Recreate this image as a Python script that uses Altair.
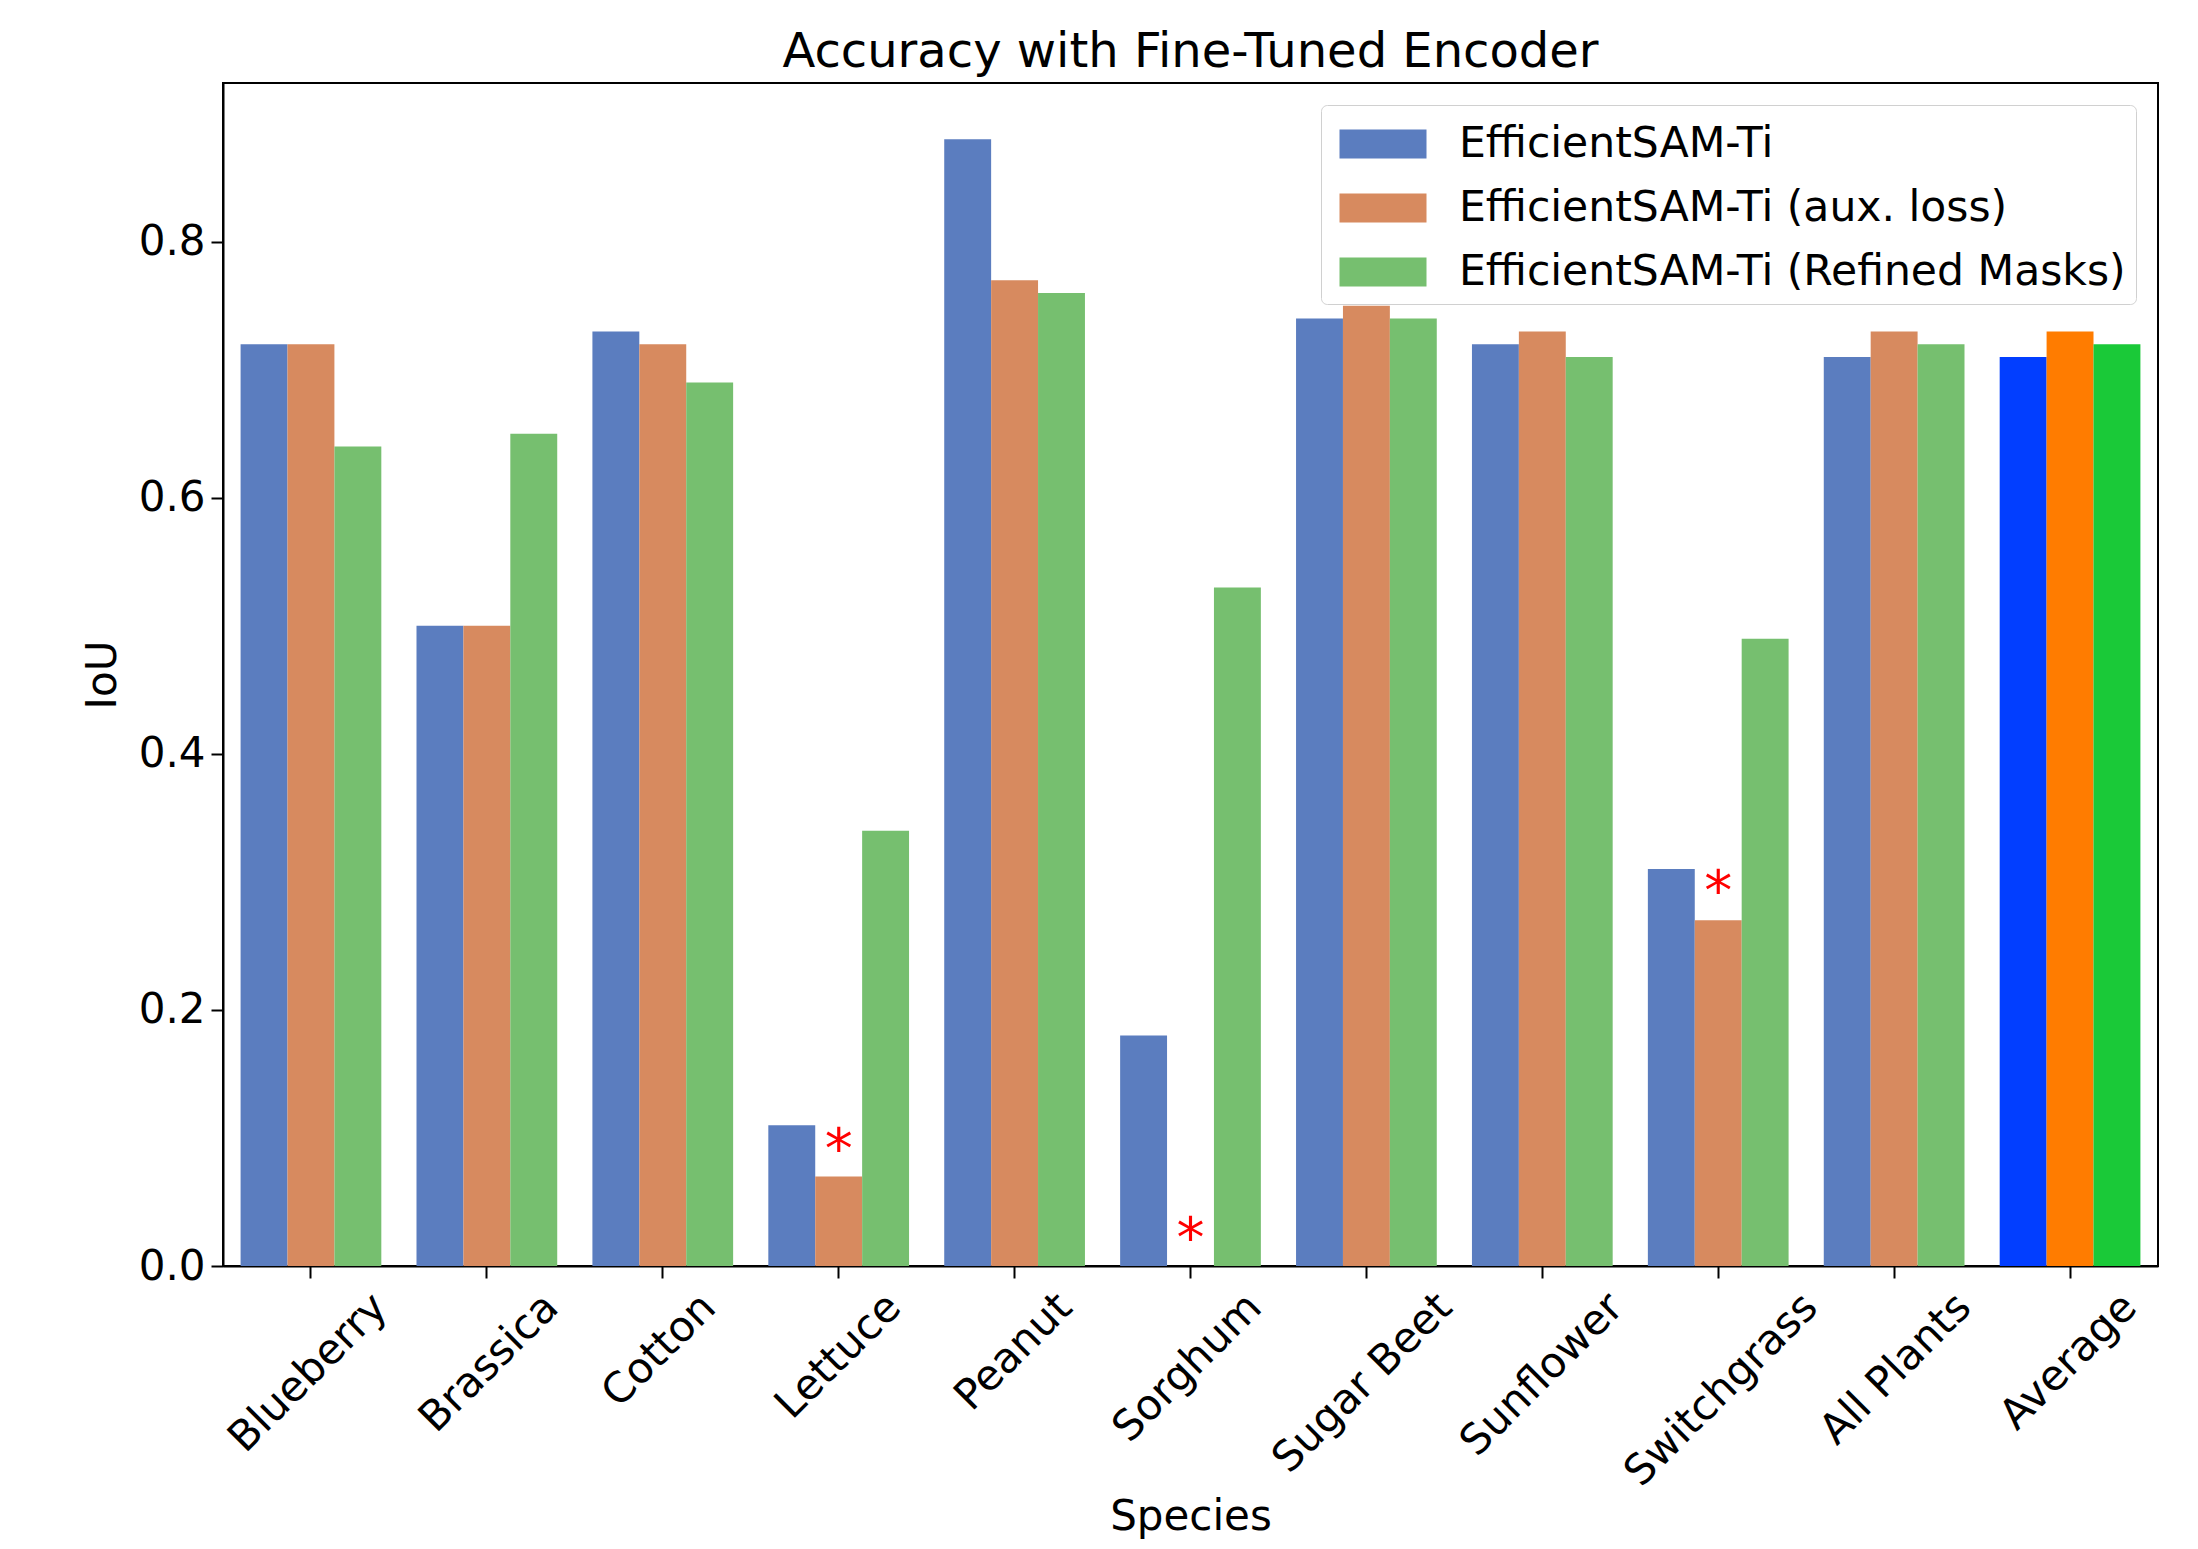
import altair as alt
import pandas as pd

species = ["Blueberry", "Brassica", "Cotton", "Lettuce", "Peanut", "Sorghum",
           "Sugar Beet", "Sunflower", "Switchgrass", "All Plants", "Average"]
models = ["EfficientSAM-Ti", "EfficientSAM-Ti (aux. loss)", "EfficientSAM-Ti (Refined Masks)"]
base_vals = [0.72, 0.50, 0.73, 0.11, 0.88, 0.18, 0.74, 0.72, 0.31, 0.71, 0.71]
aux_vals = [0.72, 0.50, 0.72, 0.07, 0.77, 0.0, 0.75, 0.73, 0.27, 0.73, 0.73]
refined_vals = [0.64, 0.65, 0.69, 0.34, 0.76, 0.53, 0.74, 0.71, 0.49, 0.72, 0.72]
muted_colors = ["#5b7dbf", "#d78a5f", "#76bf6f"]
bright_colors = ["#023eff", "#ff7c00", "#1ac938"]
star_species = ["Lettuce", "Sorghum", "Switchgrass"]
star_values = [0.098, 0.028, 0.299]

FONT = "DejaVu Sans"
FS = 42

rows = []
for m, vals in zip(models, [base_vals, aux_vals, refined_vals]):
    for s, v in zip(species, vals):
        key = ("avg|" + m) if s == "Average" else m
        rows.append({"Species": s, "Model": m, "IoU": v, "key": key})
df = pd.DataFrame(rows)

stars = pd.DataFrame({"Species": star_species, "IoU": star_values,
                      "Model": [models[1]] * len(star_species)})

color_domain = models + ["avg|" + m for m in models]
color_range = muted_colors + bright_colors

# approximate rendered label width (em) to centre rotated labels on their ticks
narrow = "(length(datum.label) - length(replace(datum.label, regexp('[iltfrj ]', 'g'), '')))"
wide = "(length(datum.label) - length(replace(datum.label, regexp('[mwMW]', 'g'), '')))"
width_expr = f"({FS}*(0.62*length(datum.label) - 0.29*{narrow} + 0.3*{wide}))"
offset_expr = f"0.354*({width_expr} - {FS})"

x_enc = alt.X("Species:N", sort=species, title="Species",
              scale=alt.Scale(paddingInner=0.2, paddingOuter=0.1),
              axis=alt.Axis(labelAngle=-45, labelAlign="right", labelBaseline="top",
                            labelFontSize=FS, titleFontSize=FS, labelFont=FONT, titleFont=FONT,
                            labelColor="black", titleColor="black", titleFontWeight="normal",
                            tickSize=12, tickColor="black", tickWidth=2, domainColor="black",
                            domainWidth=2, labelPadding=8, titlePadding=30, labelLimit=1000,
                            labelOffset={"expr": offset_expr}))
xoff = alt.XOffset("Model:N", sort=models, scale=alt.Scale(paddingInner=0, paddingOuter=0))

bars = alt.Chart(df).mark_bar().encode(
    x=x_enc,
    xOffset=xoff,
    y=alt.Y("IoU:Q", title="IoU",
            scale=alt.Scale(domain=[0, 0.924], nice=False, zero=True),
            axis=alt.Axis(values=[0, 0.2, 0.4, 0.6, 0.8], format=".1f", grid=False,
                          labelFontSize=FS, titleFontSize=FS, labelFont=FONT, titleFont=FONT,
                          labelColor="black", titleColor="black", titleFontWeight="normal",
                          tickSize=12, tickColor="black", tickWidth=2, domainColor="black",
                          domainWidth=2, labelPadding=6, titlePadding=14)),
    color=alt.Color("key:N",
                    scale=alt.Scale(domain=color_domain, range=color_range),
                    legend=alt.Legend(values=models, title=None, orient="top-right",
                                      padding=10,
                                      labelFontSize=42.5, labelFont=FONT, labelColor="black",
                                      labelLimit=1000,
                                      symbolType="M-1.5,-0.5H1.5V0.5H-1.5Z",
                                      symbolSize=3364, symbolStrokeWidth=0,
                                      symbolOpacity=1, symbolOffset=23,
                                      rowPadding=13, labelOffset=47,
                                      fillColor="white", strokeColor="#d0d0d0",
                                      cornerRadius=6, offset=22)),
)

star_text = alt.Chart(stars).mark_text(text="*", color="red", fontSize=56, font=FONT,
                                        baseline="middle", dy=10).encode(
    x=alt.X("Species:N", sort=species),
    xOffset=alt.XOffset("Model:N", sort=models),
    y=alt.Y("IoU:Q"),
)

chart = alt.layer(bars, star_text).properties(
    width=1935, height=1183,
    padding={"left": 73, "top": 21, "right": 5, "bottom": 8},
    title=alt.TitleParams("Accuracy with Fine-Tuned Encoder", fontSize=48, font=FONT,
                          fontWeight="normal", color="black", offset=6),
).configure(background="white").configure_view(stroke="black", strokeWidth=2)

chart.save("out.html", embed_options={"renderer": "svg", "actions": False})
